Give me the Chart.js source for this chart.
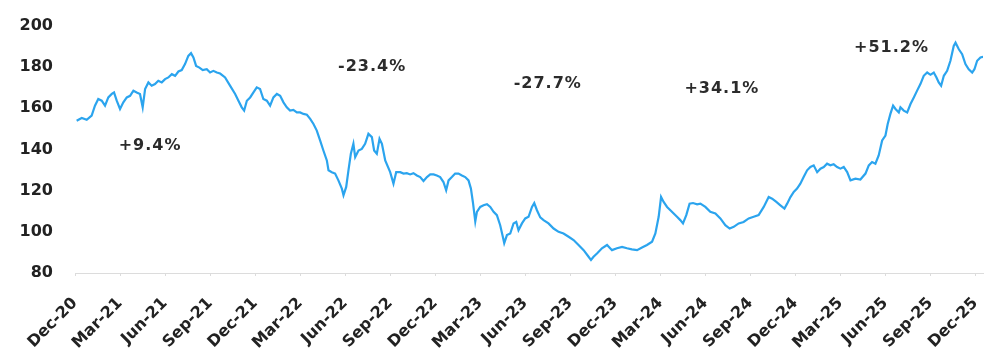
<!DOCTYPE html>
<html>
<head>
<meta charset="utf-8">
<script src="https://cdn.jsdelivr.net/npm/chart.js@4"></script>
<style>
  html, body { margin: 0; padding: 0; background: #fff; }
  #wrap { width: 986px; height: 349px; }
</style>
</head>
<body>
<div id="wrap"><canvas id="priceChart"></canvas></div>
<script>
// months since Dec-20 and the closing level at each point
const months = [
  0.11, 0.45, 0.78, 1.11, 1.33, 1.55, 1.78, 2.0, 2.22, 2.45, 2.6, 2.78, 3.0, 3.22, 3.45, 3.67, 3.89,
  4.11, 4.33, 4.51, 4.67, 4.89, 5.11, 5.33, 5.55, 5.78, 6.0, 6.22, 6.45, 6.67, 6.89, 7.11, 7.33,
  7.55, 7.73, 7.89, 8.07, 8.29, 8.51, 8.78, 9.0, 9.22, 9.45, 9.67, 10.0, 10.33, 10.67, 10.89, 11.11,
  11.27, 11.45, 11.67, 11.89, 12.11, 12.33, 12.55, 12.78, 13.0, 13.22, 13.45, 13.67, 13.89, 14.11,
  14.33, 14.55, 14.78, 15.0, 15.22, 15.45, 15.67, 15.89, 16.11, 16.33, 16.55, 16.78, 16.89, 17.11,
  17.33, 17.55, 17.78, 17.89, 18.07, 18.22, 18.38, 18.55, 18.67, 18.89, 19.11, 19.33, 19.55, 19.78,
  19.93, 20.11, 20.29, 20.45, 20.67, 21.0, 21.22, 21.4, 21.67, 21.89, 22.11, 22.33, 22.55, 22.78,
  23.0, 23.22, 23.45, 23.67, 23.89, 24.11, 24.33, 24.55, 24.73, 24.89, 25.11, 25.33, 25.55, 25.78,
  26.0, 26.22, 26.38, 26.51, 26.67, 26.78, 27.0, 27.22, 27.45, 27.67, 27.89, 28.11, 28.33, 28.51,
  28.6, 28.78, 29.0, 29.22, 29.4, 29.55, 29.78, 30.0, 30.22, 30.45, 30.6, 30.78, 31.0, 31.22, 31.55,
  31.89, 32.22, 32.55, 32.89, 33.22, 33.55, 33.89, 34.22, 34.38, 34.55, 34.78, 35.11, 35.45, 35.78,
  36.11, 36.45, 36.78, 37.11, 37.45, 37.78, 38.11, 38.45, 38.67, 38.89, 39.05, 39.22, 39.45, 39.67,
  39.89, 40.11, 40.33, 40.51, 40.73, 40.95, 41.18, 41.45, 41.67, 42.0, 42.33, 42.67, 43.0, 43.33,
  43.62, 43.89, 44.22, 44.55, 44.89, 45.22, 45.55, 45.89, 46.22, 46.45, 46.73, 47.0, 47.27, 47.45,
  47.67, 47.89, 48.11, 48.33, 48.55, 48.78, 49.0, 49.22, 49.45, 49.67, 49.89, 50.11, 50.33, 50.55,
  50.78, 51.0, 51.22, 51.45, 51.67, 52.0, 52.33, 52.67, 52.89, 53.11, 53.33, 53.55, 53.78, 54.0,
  54.15, 54.33, 54.51, 54.67, 54.89, 55.0, 55.22, 55.45, 55.67, 55.89, 56.11, 56.33, 56.55, 56.78,
  57.0, 57.22, 57.4, 57.55, 57.71, 57.89, 58.11, 58.33, 58.55, 58.67, 58.89, 59.11, 59.33, 59.55,
  59.78, 59.93, 60.11, 60.33, 60.51
];
const prices = [
  154.0, 155.3, 154.4, 156.5, 161.3, 164.5, 163.7, 161.3, 165.3, 167.0, 167.7, 163.7, 159.7, 162.9, 165.3, 166.1, 168.6,
  167.7, 167.0, 160.5, 169.4, 172.6, 171.0, 171.8, 173.4, 172.6, 174.2, 175.0, 176.6, 175.8, 177.9, 178.6, 181.5,
  185.5, 186.8, 184.7, 180.6, 179.8, 178.6, 179.0, 177.4, 178.2, 177.4, 176.9, 175.0, 171.0, 167.0, 163.7, 160.5,
  158.9, 163.7, 165.3, 167.7, 170.2, 169.4, 164.5, 163.7, 161.3, 165.3, 167.0, 166.1, 162.9, 160.5,
  158.9, 159.2, 158.0, 158.0, 157.3, 156.9, 154.9, 152.4, 149.2, 144.4, 139.5, 134.7, 129.9, 129.0,
  128.3, 125.0, 121.0, 117.8, 121.8, 129.9, 137.9, 142.8, 136.3, 139.5, 140.3, 142.8, 147.6, 146.0,
  139.5, 137.9, 145.2, 142.8, 134.7, 129.0, 123.4, 129.0, 129.0, 128.3, 128.5, 127.9, 128.5, 127.4,
  126.6, 124.7, 126.6, 127.9, 127.9, 127.4, 126.6, 124.2, 120.2, 125.0, 126.6, 128.3, 128.3, 127.4,
  126.6, 125.0, 121.0, 114.5, 105.0, 109.7, 112.1, 112.9, 113.4, 112.1, 109.7, 108.1, 103.2, 97.5,
  94.5, 98.4, 99.2, 104.1, 104.8, 100.8, 104.1, 106.5, 107.3, 112.1, 114.0, 110.5, 107.0, 105.7, 104.1,
  101.6, 100.0, 99.2, 97.6, 96.0, 93.6, 91.1, 87.9, 86.3, 87.9, 89.5, 92.0, 93.6, 91.1,
  92.0, 92.7, 92.0, 91.5, 91.1, 92.4, 93.6, 95.2, 99.2, 107.3, 116.9, 114.5, 112.1, 110.5,
  108.9, 107.3, 105.7, 104.1, 108.1, 113.7, 114.0, 113.4, 113.7, 112.1, 109.7, 108.9, 106.5, 103.2,
  101.6, 102.4, 104.1, 104.8, 106.5, 107.3, 108.1, 112.1, 116.9, 116.1, 114.5, 112.9, 111.3, 113.7,
  116.9, 119.4, 121.0, 123.4, 126.6, 129.9, 131.5, 132.3, 129.0, 130.7, 131.5, 133.1, 132.3, 132.8,
  131.5, 130.7, 131.5, 129.0, 125.0, 125.8, 125.4, 128.3, 132.3, 133.9, 133.1, 137.1, 144.4, 146.8,
  152.4, 157.3, 161.3, 159.7, 158.0, 160.5, 158.9, 158.0, 162.1, 165.3, 168.6, 171.8, 175.8, 177.4,
  176.3, 177.4, 175.0, 172.6, 171.0, 175.8, 178.2, 183.1, 190.3, 191.9, 188.7, 186.3, 181.5, 179.0,
  177.4, 179.0, 183.1, 184.7, 185.0
];

// quarterly axis labels, one every 3 months
const tickLabels = [
  "Dec-20", "Mar-21", "Jun-21", "Sep-21", "Dec-21", "Mar-22", "Jun-22", "Sep-22", "Dec-22",
  "Mar-23", "Jun-23", "Sep-23", "Dec-23", "Mar-24", "Jun-24", "Sep-24", "Dec-24",
  "Mar-25", "Jun-25", "Sep-25", "Dec-25"
];

// period returns written over the line
const noteText = ["+9.4%", "-23.4%", "-27.7%", "+34.1%", "+51.2%"];
const noteMonth = [5.0, 19.8, 31.5, 43.1, 54.4];
const noteLevel = [141.9, 180.2, 171.9, 169.5, 189.4];

const points = months.map((m, i) => ({ x: m, y: prices[i] }));

const returnNotes = {
  id: "returnNotes",
  afterDatasetsDraw(chart) {
    const { ctx, scales } = chart;
    ctx.save();
    ctx.font = "bold 16px 'DejaVu Sans'";
    ctx.letterSpacing = "1px";
    ctx.fillStyle = "#2b2b2b";
    ctx.textAlign = "center";
    ctx.textBaseline = "middle";
    noteText.forEach((t, i) => {
      ctx.fillText(t, scales.x.getPixelForValue(noteMonth[i]), scales.y.getPixelForValue(noteLevel[i]));
    });
    ctx.restore();
  }
};

new Chart(document.getElementById("priceChart"), {
  type: "line",
  data: {
    datasets: [{
      data: points,
      borderColor: "#2ba4ee",
      borderWidth: 2.2,
      pointRadius: 0,
      tension: 0,
      fill: false
    }]
  },
  options: {
    responsive: true,
    maintainAspectRatio: false,
    animation: false,
    layout: { padding: { top: 26, right: 3, left: 0, bottom: 0 } },
    plugins: { legend: { display: false }, tooltip: { enabled: false } },
    scales: {
      x: {
        type: "linear",
        min: 0,
        max: 60.5,
        afterFit(scale) {
          scale.height = 76;
          // rotated labels end at their tick, so nothing spills past the right edge
          scale.paddingRight = 0;
        },
        afterBuildTicks(scale) {
          scale.ticks = tickLabels.map((_, i) => ({ value: i * 3 }));
        },
        border: { display: true, color: "#dcdcdc", width: 1 },
        grid: { display: true, drawOnChartArea: false, drawTicks: true, tickLength: 3, color: "#dcdcdc" },
        ticks: {
          autoSkip: false,
          maxRotation: 45,
          minRotation: 45,
          padding: 18,
          color: "#222",
          font: { family: "'DejaVu Sans'", size: 16, weight: "bold" },
          callback: (v) => tickLabels[Math.round(v / 3)]
        }
      },
      y: {
        min: 80,
        max: 200,
        afterFit(scale) {
          scale.width = 75;
          scale.paddingTop = 0;
        },
        border: { display: false },
        grid: { display: false, drawTicks: false },
        ticks: {
          stepSize: 20,
          padding: 22,
          color: "#222",
          font: { family: "'DejaVu Sans'", size: 16, weight: "bold" }
        }
      }
    }
  },
  plugins: [returnNotes]
});
</script>
</body>
</html>
